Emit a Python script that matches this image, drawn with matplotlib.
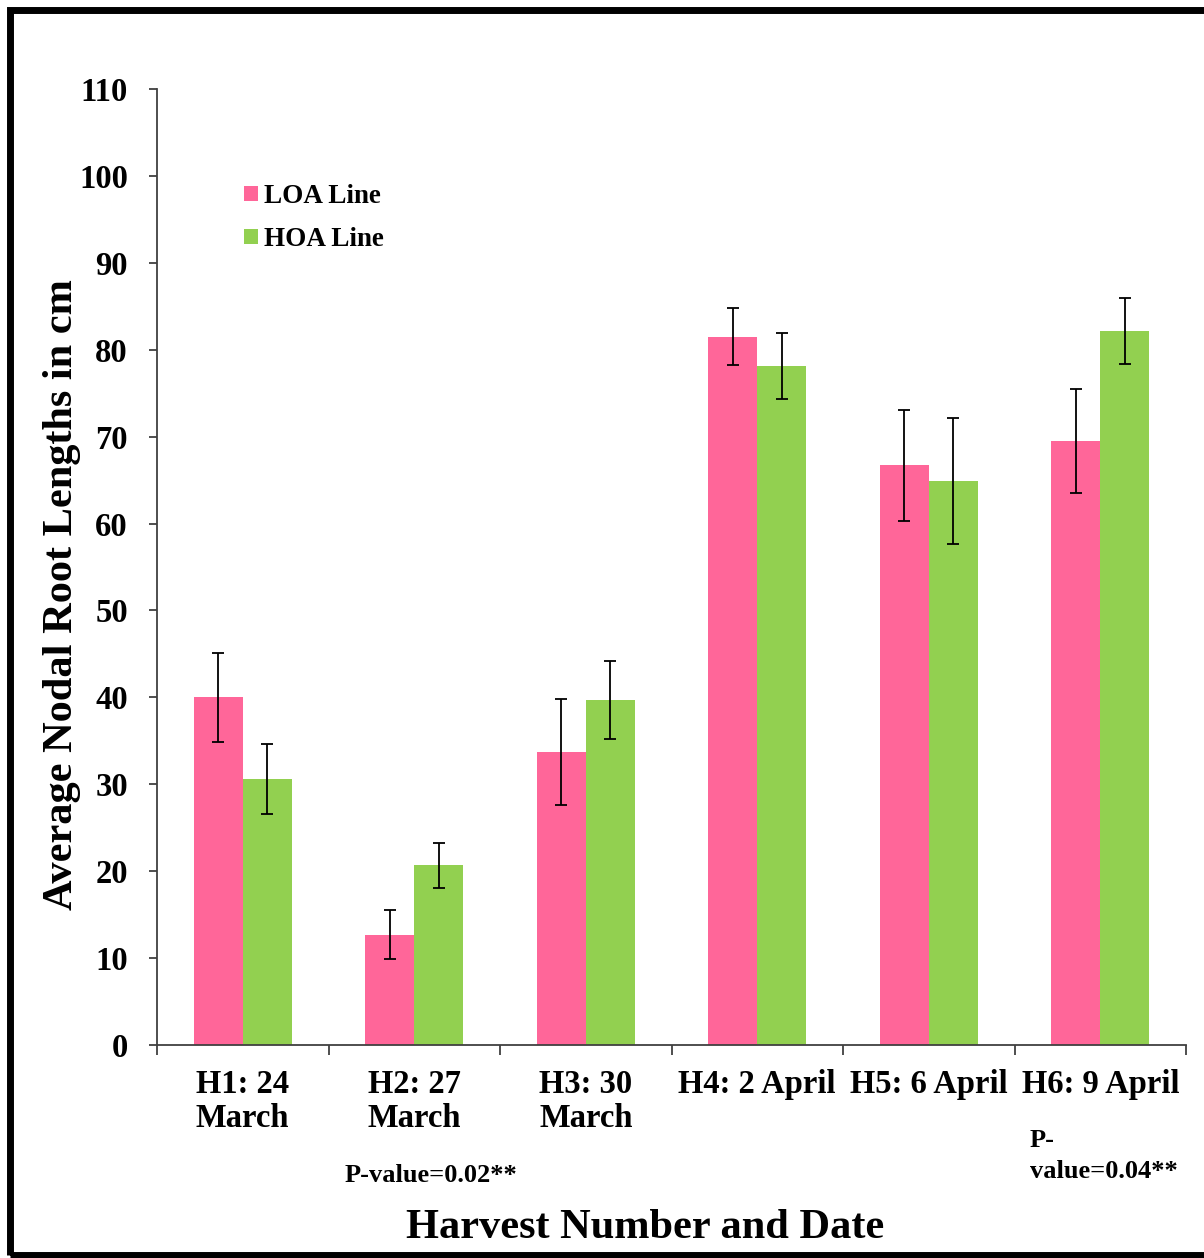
import numpy as np
import matplotlib
matplotlib.use("Agg")
import matplotlib.pyplot as plt
from matplotlib.patches import Rectangle

plt.rcParams['font.family'] = ['Liberation Serif', 'DejaVu Serif']
plt.rcParams['font.weight'] = 'bold'

# harvest groups
harvests = ["H1: 24\nMarch", "H2: 27\nMarch", "H3: 30\nMarch",
            "H4: 2 April", "H5: 6 April", "H6: 9 April"]
loa_mean = [40.0, 12.7, 33.7, 81.5, 66.7, 69.5]
loa_err = [5.1, 2.8, 6.1, 3.3, 6.4, 6.0]
hoa_mean = [30.6, 20.7, 39.7, 78.1, 64.9, 82.2]
hoa_err = [4.0, 2.6, 4.5, 3.8, 7.2, 3.8]
yticks = list(range(0, 111, 10))

pink = "#FF6699"
green = "#92D050"

W, H = 1204, 1258
fig = plt.figure(figsize=(W / 100, H / 100), dpi=100)
ax = fig.add_axes([157/W, 1 - 1045/H, (1186 - 157)/W, (1045 - 89)/H])

x = np.arange(len(harvests))
w = 0.286
err_kw = dict(ecolor="black", elinewidth=1.3, capsize=4.5, capthick=1.3)
ax.bar(x - w/2, loa_mean, w, yerr=loa_err, color=pink, label="LOA Line", error_kw=err_kw)
ax.bar(x + w/2, hoa_mean, w, yerr=hoa_err, color=green, label="HOA Line", error_kw=err_kw)

ax.set_xlim(-0.5, len(harvests) - 0.5)
ax.set_ylim(0, 110)
ax.set_yticks(yticks)
ax.set_yticklabels([str(t) for t in yticks], fontsize=23.5, fontweight='bold')

# boundary ticks between groups, labels centred under each group
ax.set_xticks(np.arange(-0.5, len(harvests)), minor=False)
ax.set_xticklabels([])
ax.set_xticks(x, minor=True)
ax.set_xticklabels(harvests, minor=True, fontsize=23.5, fontweight='bold', linespacing=1.15)
ax.tick_params(axis='x', which='minor', length=0, pad=17)
ax.tick_params(axis='x', which='major', length=7, width=1.3, color="#404040", direction='out')
ax.tick_params(axis='y', length=6, width=1.3, color="#404040", pad=15)

for s in ["top", "right"]:
    ax.spines[s].set_visible(False)
for s in ["left", "bottom"]:
    ax.spines[s].set_color("#404040")
    ax.spines[s].set_linewidth(1.3)

ax.legend(loc="upper left", bbox_to_anchor=(0.074, 0.912), frameon=False,
          prop=dict(size=19.5, weight='bold'), handlelength=0.5, handleheight=0.5,
          handletextpad=0.25, labelspacing=0.66, borderaxespad=0)

fig.text(72/W, 1 - 595/H, "Average Nodal Root Lengths in cm", rotation=90,
         rotation_mode='anchor', ha="center", va="baseline", fontsize=30.5, fontweight='bold')
fig.text(645/W, 1 - 1238/H, "Harvest Number and Date",
         ha="center", va="baseline", fontsize=30.5, fontweight='bold')
fig.text(431/W, 1 - 1182/H, "P-value=0.02**",
         ha="center", va="baseline", fontsize=19, fontweight='bold')
fig.text(1030/W, 1 - 1147/H, "P-", ha="left", va="baseline", fontsize=19, fontweight='bold')
fig.text(1030/W, 1 - 1178/H, "value=0.04**", ha="left", va="baseline", fontsize=19, fontweight='bold')

# outer frame
fig.patches.append(Rectangle((9.5/W, 3/H), 1.05, 1 - 13/H, transform=fig.transFigure,
                             fill=False, edgecolor="black", linewidth=5, clip_on=False))

fig.savefig("out.png", dpi=100)
